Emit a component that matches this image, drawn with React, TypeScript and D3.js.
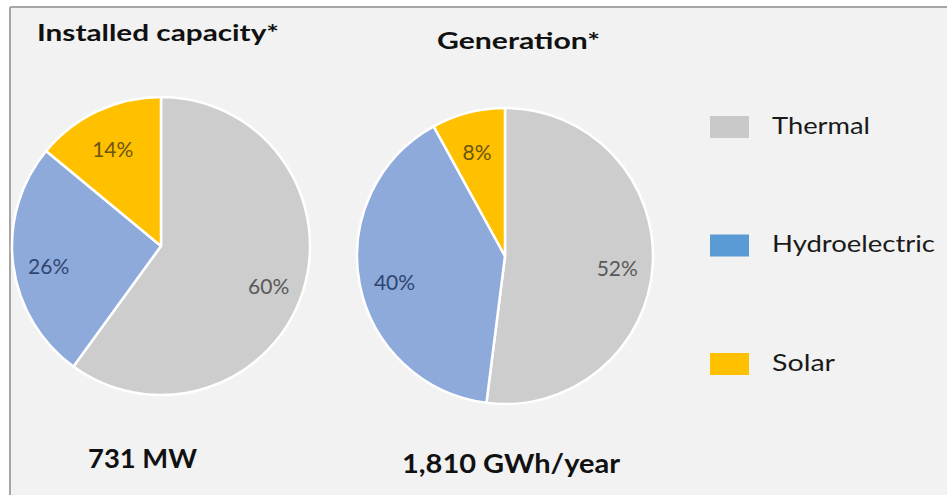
import React from "react";
import * as d3 from "d3";

// Energy mix by source
const sources = ["Thermal", "Hydroelectric", "Solar"];
const capacityShare = [60, 26, 14];
const generationShare = [52, 40, 8];
const chartTitles = ["Installed capacity*", "Generation*"];
const totals = ["731 MW", "1,810 GWh/year"];

const W = 947;
const H = 495;
const FONT = "Lato, 'Open Sans', sans-serif";

const sliceFill: Record<string, string> = {
  Thermal: "#cdcdcd",
  Hydroelectric: "#8eaadb",
  Solar: "#ffc000",
};
const legendFill: Record<string, string> = {
  Thermal: "#c9c9c9",
  Hydroelectric: "#5b9bd5",
  Solar: "#ffc000",
};
const labelFill: Record<string, string> = {
  Thermal: "#595959",
  Hydroelectric: "#2f4672",
  Solar: "#6b5512",
};
// rendered widths of the legend captions
const legendTextLen: Record<string, number> = {
  Thermal: 98,
  Hydroelectric: 163,
  Solar: 63,
};

type PieSpec = {
  cx: number;
  cy: number;
  r: number;
  values: number[];
  title: string;
  titleX: number;
  titleY: number;
  titleLen: number;
  total: string;
  totalX: number;
  totalY: number;
  totalLen: number;
};

const pies: PieSpec[] = [
  {
    cx: 161, cy: 246, r: 149, values: capacityShare,
    title: chartTitles[0], titleX: 37, titleY: 41, titleLen: 242,
    total: totals[0], totalX: 88, totalY: 468, totalLen: 109,
  },
  {
    cx: 505, cy: 256, r: 148, values: generationShare,
    title: chartTitles[1], titleX: 437, titleY: 49, titleLen: 163,
    total: totals[1], totalX: 402, totalY: 473, totalLen: 218,
  },
];

type Datum = { source: string; value: number };

function Pie({ spec }: { spec: PieSpec }) {
  const data: Datum[] = sources.map((s, i) => ({ source: s, value: spec.values[i] }));
  const layout = d3
    .pie<Datum>()
    .value((d) => d.value)
    .sort(null)
    .startAngle(0)
    .endAngle(2 * Math.PI);
  const arcs = layout(data);
  const arcGen = d3.arc<d3.PieArcDatum<Datum>>().innerRadius(0).outerRadius(spec.r);
  const labelArc = d3
    .arc<d3.PieArcDatum<Datum>>()
    .innerRadius(spec.r * 0.76)
    .outerRadius(spec.r * 0.76);

  return (
    <g>
      <text
        x={spec.titleX}
        y={spec.titleY}
        fontFamily={FONT}
        fontWeight={700}
        fontSize={23}
        fill="#111"
        textLength={spec.titleLen}
        lengthAdjust="spacingAndGlyphs"
      >
        {spec.title}
      </text>
      <g transform={`translate(${spec.cx},${spec.cy})`}>
        {arcs.map((a) => (
          <path
            key={a.data.source}
            d={arcGen(a) || ""}
            fill={sliceFill[a.data.source]}
            stroke="#ffffff"
            strokeWidth={2.5}
            strokeLinejoin="round"
          />
        ))}
        {arcs.map((a) => {
          const [x, y] = labelArc.centroid(a);
          return (
            <text
              key={a.data.source + "-l"}
              x={x}
              y={y + 6}
              dy="0.35em"
              textAnchor="middle"
              fontFamily={FONT}
              fontSize={21}
              fill={labelFill[a.data.source]}
            >
              {`${a.data.value}%`}
            </text>
          );
        })}
      </g>
      <text
        x={spec.totalX}
        y={spec.totalY}
        fontFamily={FONT}
        fontWeight={700}
        fontSize={26}
        fill="#111"
        textLength={spec.totalLen}
        lengthAdjust="spacingAndGlyphs"
      >
        {spec.total}
      </text>
    </g>
  );
}

export default function App() {
  const legendY = d3.scalePoint<string>().domain(sources).range([127, 364]);
  return (
    <svg
      width={W}
      height={H}
      style={{ position: "absolute", left: 0, top: 0, display: "block" }}
    >
      <rect x={0} y={0} width={W} height={H} fill="#ffffff" />
      <rect x={10} y={7} width={W - 10} height={H - 7} fill="#f2f2f2" />
      <line x1={10} y1={7} x2={W} y2={7} stroke="#a6a6a6" strokeWidth={2} />
      <line x1={10} y1={7} x2={10} y2={H} stroke="#a6a6a6" strokeWidth={2} />
      {pies.map((p) => (
        <Pie key={p.title} spec={p} />
      ))}
      {sources.map((s) => {
        const y = legendY(s) ?? 0;
        return (
          <g key={s}>
            <rect x={710} y={y - 11} width={39} height={22} fill={legendFill[s]} />
            <text
              x={772}
              y={y}
              dy="0.3em"
              fontFamily={FONT}
              fontSize={23}
              fill="#1a1a1a"
              textLength={legendTextLen[s]}
              lengthAdjust="spacingAndGlyphs"
            >
              {s}
            </text>
          </g>
        );
      })}
    </svg>
  );
}
